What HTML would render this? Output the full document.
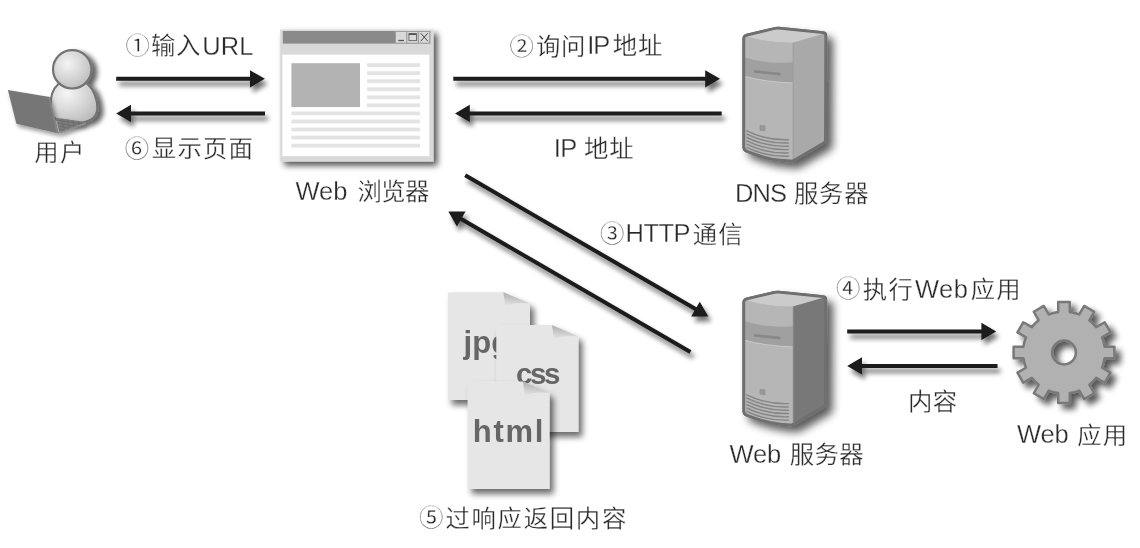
<!DOCTYPE html>
<html><head><meta charset="utf-8"><title>Web</title>
<style>
html,body{margin:0;padding:0;background:#fff;}
body{width:1140px;height:548px;overflow:hidden;font-family:"Liberation Sans","Noto Sans CJK SC",sans-serif;}
svg{display:block;will-change:transform;}
text{font-family:"Liberation Sans","Noto Sans CJK SC",sans-serif;}
</style></head><body>
<svg width="1140" height="548" viewBox="0 0 1140 548">
<defs>
<filter id="shu" filterUnits="userSpaceOnUse" x="0" y="0" width="1140" height="548"><feGaussianBlur in="SourceAlpha" stdDeviation="2.9"/><feOffset dx="4.5" dy="3.2"/><feComponentTransfer><feFuncA type="linear" slope="0.62"/></feComponentTransfer><feMerge><feMergeNode/><feMergeNode in="SourceGraphic"/></feMerge></filter><filter id="shl" filterUnits="userSpaceOnUse" x="0" y="0" width="1140" height="548"><feGaussianBlur in="SourceAlpha" stdDeviation="2"/><feOffset dx="2" dy="2.5"/><feComponentTransfer><feFuncA type="linear" slope="0.4"/></feComponentTransfer><feMerge><feMergeNode/><feMergeNode in="SourceGraphic"/></feMerge></filter><filter id="shw" filterUnits="userSpaceOnUse" x="0" y="0" width="1140" height="548"><feGaussianBlur in="SourceAlpha" stdDeviation="3"/><feOffset dx="3.5" dy="3.7"/><feComponentTransfer><feFuncA type="linear" slope="0.68"/></feComponentTransfer><feMerge><feMergeNode/><feMergeNode in="SourceGraphic"/></feMerge></filter><filter id="shs" filterUnits="userSpaceOnUse" x="0" y="0" width="1140" height="548"><feGaussianBlur in="SourceAlpha" stdDeviation="4.0"/><feOffset dx="6" dy="5.5"/><feComponentTransfer><feFuncA type="linear" slope="0.64"/></feComponentTransfer><feMerge><feMergeNode/><feMergeNode in="SourceGraphic"/></feMerge></filter><filter id="shg" filterUnits="userSpaceOnUse" x="0" y="0" width="1140" height="548"><feGaussianBlur in="SourceAlpha" stdDeviation="3.0"/><feOffset dx="4.8" dy="4.8"/><feComponentTransfer><feFuncA type="linear" slope="0.66"/></feComponentTransfer><feMerge><feMergeNode/><feMergeNode in="SourceGraphic"/></feMerge></filter><filter id="shf" filterUnits="userSpaceOnUse" x="0" y="0" width="1140" height="548"><feGaussianBlur in="SourceAlpha" stdDeviation="3.2"/><feOffset dx="4.2" dy="4.8"/><feComponentTransfer><feFuncA type="linear" slope="0.58"/></feComponentTransfer><feMerge><feMergeNode/><feMergeNode in="SourceGraphic"/></feMerge></filter><filter id="sha" filterUnits="userSpaceOnUse" x="0" y="0" width="1140" height="548"><feGaussianBlur in="SourceAlpha" stdDeviation="2.9"/><feOffset dx="3" dy="4.8"/><feComponentTransfer><feFuncA type="linear" slope="0.56"/></feComponentTransfer><feMerge><feMergeNode/><feMergeNode in="SourceGraphic"/></feMerge></filter>
<radialGradient id="gh" cx="0.38" cy="0.35" r="0.7"><stop offset="0" stop-color="#f4f4f4"/><stop offset="0.55" stop-color="#d6d6d6"/><stop offset="1" stop-color="#bdbdbd"/></radialGradient>
<radialGradient id="gb" cx="0.35" cy="0.3" r="0.75"><stop offset="0" stop-color="#f6f6f6"/><stop offset="0.5" stop-color="#dadada"/><stop offset="1" stop-color="#bcbcbc"/></radialGradient>
<linearGradient id="fold" x1="0.3" y1="0" x2="0.15" y2="1"><stop offset="0" stop-color="#adadad"/><stop offset="0.5" stop-color="#c9c9c9"/><stop offset="1" stop-color="#e4e4e4"/></linearGradient>
</defs>
<rect width="1140" height="548" fill="#fff"/>

<g filter="url(#shu)">
<path d="M57.5 85 C52.5 89 50.3 98 50.3 108 C50.3 119 60 123.2 74 123.2 C88 123.2 97.4 119 97.4 108 C97.4 99 93.5 89.5 88.5 85 C82 79 64 79 57.5 85Z" fill="url(#gb)" stroke="#727272" stroke-width="2.2"/>
<circle cx="72.2" cy="69.3" r="19.2" fill="url(#gh)" stroke="#737373" stroke-width="2.2"/>
</g>
<g filter="url(#shl)">
<path d="M55.8 117.8 L85.9 122.1 L85.9 124.3 L59.7 133.6 Z" fill="#7b7b7b"/>
<path d="M57.2 120.2 L83.5 123.9 M58 123.2 L78 126.7 M58.8 126.2 L71 128.9 M59.4 129.2 L65 130.8" stroke="#6b6b6b" stroke-width="0.9" fill="none"/>
<path d="M62 118.8 L64.5 131.5 M67.5 119.5 L69.5 129.8 M73 120.3 L74.5 128 M78.5 121 L79.3 126.3" stroke="#6b6b6b" stroke-width="0.8" fill="none"/>
<path d="M59.7 133.6 L85.9 124.3 L85.9 122.6 L59.4 132 Z" fill="#8e8e8e"/>
<path d="M7.9 90.1 L49.7 96.9 L58.7 133.5 L16.4 123.8 Z" fill="#767676"/>
<path d="M49.7 96.9 L58.7 133.5 L56.6 133 L48.2 96.7 Z" fill="#858585"/>
</g>
<g filter="url(#shw)">
<rect x="280.2" y="29.5" width="153.3" height="132.1" fill="#d9d9d9"/>
</g>
<rect x="282.8" y="31" width="147.6" height="12.6" fill="#8a8a8a"/>
<rect x="282.4" y="54.6" width="147" height="101.6" fill="#fff"/>
<rect x="395.7" y="31.6" width="11" height="11.4" fill="#d9d9d9" stroke="#9a9a9a" stroke-width="0.6"/>
<rect x="407" y="31.6" width="11" height="11.4" fill="#d9d9d9" stroke="#9a9a9a" stroke-width="0.6"/>
<rect x="418.7" y="31.6" width="11" height="11.4" fill="#d9d9d9" stroke="#9a9a9a" stroke-width="0.6"/>
<path d="M398.3 40.5 H404" stroke="#555" stroke-width="1.3"/>
<rect x="408.9" y="33.6" width="7.6" height="7" fill="none" stroke="#666" stroke-width="0.9"/><path d="M408.9 34.2 H416.5" stroke="#555" stroke-width="1.6"/>
<path d="M420.7 33.2 L427.8 41.2 M427.8 33.2 L420.7 41.2" stroke="#444" stroke-width="1"/>
<rect x="291.4" y="63.2" width="68.6" height="43.9" fill="#b3b3b3"/>
<rect x="367.1" y="63.2" width="52.9" height="3.8" fill="#e3e3e3"/>
<rect x="367.1" y="71.25" width="52.9" height="3.8" fill="#e3e3e3"/>
<rect x="367.1" y="79.3" width="52.9" height="3.8" fill="#e3e3e3"/>
<rect x="367.1" y="87.35" width="52.9" height="3.8" fill="#e3e3e3"/>
<rect x="367.1" y="95.4" width="52.9" height="3.8" fill="#e3e3e3"/>
<rect x="367.1" y="103.45" width="52.9" height="3.8" fill="#e3e3e3"/>
<rect x="291.4" y="111.5" width="128.6" height="3.8" fill="#e3e3e3"/>
<rect x="291.4" y="119.55" width="128.6" height="3.8" fill="#e3e3e3"/>
<rect x="291.4" y="127.6" width="128.6" height="3.8" fill="#e3e3e3"/>
<rect x="291.4" y="135.65" width="128.6" height="3.8" fill="#e3e3e3"/>
<rect x="291.4" y="143.7" width="128.6" height="3.8" fill="#e3e3e3"/>
<g transform="translate(0 0)"><g filter="url(#shs)"><path d="M743.8 38.7Q743.8 35.7 746.72 35.02L774.56 28.5Q776.7 28 778.89 28.22L823.21 32.64Q825.8 32.9 825.79 35.5L825.41 139.9Q825.4 141.9 823.67 142.91L794.2 160.09Q792.3 161.2 790.11 161.01L780.15 160.15Q768 159.1 755.9 154.65L746.8 151.3Q743.8 150.2 743.8 147Z" fill="#b5b5b5" stroke="#6f6f6f" stroke-width="2.8" stroke-linejoin="round"/></g><path d="M744.6 35.8 L776.7 28.9 L824.8 33.4 L793 42.7 Q768 43.5 744.6 35.8Z" fill="#cbcbcb"/><path d="M744.6 35.8 Q768 43.5 793 42.7 L793 160.7 Q766 160 745 149.2Z" fill="#b6b6b6"/><path d="M744.6 57.2 Q766 64.5 793 62.3 L793 82.8 Q766 82 744.6 76.2Z" fill="#a0a0a0"/><path d="M744.6 76.4 Q766 82.2 793 83" fill="none" stroke="#c8c8c8" stroke-width="1"/><path d="M754.1 70.1 L780.4 72.8 L780.4 75.6 L754.1 72.6Z" fill="#888"/><path d="M793 42.7 L825 33.4 L824.9 141.9 L793 160.7Z" fill="#a9a9a9"/><path d="M793 42.7 V160.5" stroke="#9d9d9d" stroke-width="0.8"/><path d="M759.6 125 L765.5 125.6 L765.5 131.3 L759.6 130.7Z" fill="#969696"/><path d="M746.8 130.9 Q766 140.5 788.4 139.7" fill="none" stroke="#858585" stroke-width="1.4" stroke-linecap="round"/><path d="M746.8 134.2 Q766 143.8 788.4 143" fill="none" stroke="#858585" stroke-width="1.4" stroke-linecap="round"/><path d="M746.8 137.5 Q766 147.1 788.4 146.3" fill="none" stroke="#858585" stroke-width="1.4" stroke-linecap="round"/><path d="M746.8 140.8 Q766 150.4 788.4 149.6" fill="none" stroke="#858585" stroke-width="1.4" stroke-linecap="round"/><path d="M746.8 144.1 Q766 153.7 788.4 152.9" fill="none" stroke="#858585" stroke-width="1.4" stroke-linecap="round"/><path d="M746.8 147.4 Q766 157 788.4 156.2" fill="none" stroke="#858585" stroke-width="1.4" stroke-linecap="round"/><path d="M743.8 38.7Q743.8 35.7 746.72 35.02L774.56 28.5Q776.7 28 778.89 28.22L823.21 32.64Q825.8 32.9 825.79 35.5L825.41 139.9Q825.4 141.9 823.67 142.91L794.2 160.09Q792.3 161.2 790.11 161.01L780.15 160.15Q768 159.1 755.9 154.65L746.8 151.3Q743.8 150.2 743.8 147Z" fill="none" stroke="#6f6f6f" stroke-width="2.8" stroke-linejoin="round"/></g>
<g transform="translate(0 263.9)"><g filter="url(#shs)"><path d="M743.8 38.7Q743.8 35.7 746.72 35.02L774.56 28.5Q776.7 28 778.89 28.22L823.21 32.64Q825.8 32.9 825.79 35.5L825.41 139.9Q825.4 141.9 823.67 142.91L794.2 160.09Q792.3 161.2 790.11 161.01L780.15 160.15Q768 159.1 755.9 154.65L746.8 151.3Q743.8 150.2 743.8 147Z" fill="#b5b5b5" stroke="#6f6f6f" stroke-width="2.8" stroke-linejoin="round"/></g><path d="M744.6 35.8 L776.7 28.9 L824.8 33.4 L793 42.7 Q768 43.5 744.6 35.8Z" fill="#cbcbcb"/><path d="M744.6 35.8 Q768 43.5 793 42.7 L793 160.7 Q766 160 745 149.2Z" fill="#b6b6b6"/><path d="M744.6 57.2 Q766 64.5 793 62.3 L793 82.8 Q766 82 744.6 76.2Z" fill="#a0a0a0"/><path d="M744.6 76.4 Q766 82.2 793 83" fill="none" stroke="#c8c8c8" stroke-width="1"/><path d="M754.1 70.1 L780.4 72.8 L780.4 75.6 L754.1 72.6Z" fill="#888"/><path d="M793 42.7 L825 33.4 L824.9 141.9 L793 160.7Z" fill="#787878"/><path d="M793 42.7 V160.5" stroke="#9d9d9d" stroke-width="0.8"/><path d="M759.6 125 L765.5 125.6 L765.5 131.3 L759.6 130.7Z" fill="#969696"/><path d="M746.8 130.9 Q766 140.5 788.4 139.7" fill="none" stroke="#858585" stroke-width="1.4" stroke-linecap="round"/><path d="M746.8 134.2 Q766 143.8 788.4 143" fill="none" stroke="#858585" stroke-width="1.4" stroke-linecap="round"/><path d="M746.8 137.5 Q766 147.1 788.4 146.3" fill="none" stroke="#858585" stroke-width="1.4" stroke-linecap="round"/><path d="M746.8 140.8 Q766 150.4 788.4 149.6" fill="none" stroke="#858585" stroke-width="1.4" stroke-linecap="round"/><path d="M746.8 144.1 Q766 153.7 788.4 152.9" fill="none" stroke="#858585" stroke-width="1.4" stroke-linecap="round"/><path d="M746.8 147.4 Q766 157 788.4 156.2" fill="none" stroke="#858585" stroke-width="1.4" stroke-linecap="round"/><path d="M743.8 38.7Q743.8 35.7 746.72 35.02L774.56 28.5Q776.7 28 778.89 28.22L823.21 32.64Q825.8 32.9 825.79 35.5L825.41 139.9Q825.4 141.9 823.67 142.91L794.2 160.09Q792.3 161.2 790.11 161.01L780.15 160.15Q768 159.1 755.9 154.65L746.8 151.3Q743.8 150.2 743.8 147Z" fill="none" stroke="#6f6f6f" stroke-width="2.8" stroke-linejoin="round"/></g>
<g filter="url(#shg)"><path d="M1058.2 311.91L1058.2 302.1 L1069.8 302.1 L1069.8 311.91A41 41 0 0 1 1079.27 314.45L1084.18 305.95 L1094.22 311.75 L1089.32 320.25A41 41 0 0 1 1096.25 327.18L1104.75 322.28 L1110.55 332.32 L1102.05 337.23A41 41 0 0 1 1104.59 346.7L1114.4 346.7 L1114.4 358.3 L1104.59 358.3A41 41 0 0 1 1102.05 367.77L1110.55 372.68 L1104.75 382.72 L1096.25 377.82A41 41 0 0 1 1089.32 384.75L1094.22 393.25 L1084.18 399.05 L1079.27 390.55A41 41 0 0 1 1069.8 393.09L1069.8 402.9 L1058.2 402.9 L1058.2 393.09A41 41 0 0 1 1048.73 390.55L1043.82 399.05 L1033.78 393.25 L1038.68 384.75A41 41 0 0 1 1031.75 377.82L1023.25 382.72 L1017.45 372.68 L1025.95 367.77A41 41 0 0 1 1023.41 358.3L1013.6 358.3 L1013.6 346.7 L1023.41 346.7A41 41 0 0 1 1025.95 337.23L1017.45 332.32 L1023.25 322.28 L1031.75 327.18A41 41 0 0 1 1038.68 320.25L1033.78 311.75 L1043.82 305.95 L1048.73 314.45A41 41 0 0 1 1058.2 311.91 ZM1075.9 352.5 A11.9 11.9 0 1 0 1052.1 352.5 A11.9 11.9 0 1 0 1075.9 352.5 Z" fill="#b1b1b1" fill-rule="evenodd" stroke="#797979" stroke-width="2.5" stroke-linejoin="round"/></g>
<g filter="url(#shf)"><path d="M447.8 292.2 H503.3 L530 303.6 V399.9 H447.8 Z" fill="#e6e6e6"/></g><path d="M503.3 292.2 L530 303.6 Q515.32 301.89 505.4 306 Z" fill="url(#fold)"/>
<text x="463.58" y="353.3" font-size="31" letter-spacing="0" fill="#666" font-weight="bold">jpg</text>
<g filter="url(#shf)"><path d="M496.3 325.1 H551.9 L578.4 336.4 V432 H496.3 Z" fill="#e6e6e6"/></g><path d="M551.9 325.1 L578.4 336.4 Q563.82 334.71 554 338.8 Z" fill="url(#fold)"/>
<text x="515.95" y="384" font-size="29.5" letter-spacing="-2.43" fill="#666" font-weight="bold">css</text>
<g filter="url(#shf)"><path d="M467.6 381.6 H522.9 L549.6 393 V489 H467.6 Z" fill="#e6e6e6"/></g><path d="M522.9 381.6 L549.6 393 Q534.91 391.29 525 395.4 Z" fill="url(#fold)"/>
<text x="472.74" y="441.5" font-size="31" letter-spacing="1.77" fill="#666" font-weight="bold">html</text>
<g filter="url(#sha)" fill="#1a1a1a">
<path d="M116.2 76.85 H250 V70.25 L264.8 78.85 L250 87.45 V80.85 H116.2 Z"/>
<path d="M265 111.4 H131 V104.8 L116.2 113.4 L131 122 V115.4 H265 Z"/>
<path d="M453.3 76.85 H705.2 V70.25 L720 78.85 L705.2 87.45 V80.85 H453.3 Z"/>
<path d="M721.7 111.4 H469.8 V104.8 L455 113.4 L469.8 122 V115.4 H721.7 Z"/>
<path d="M847.2 329.4 H981.4 V322.8 L996.2 331.4 L981.4 340 V333.4 H847.2 Z"/>
<path d="M997.5 363.9 H862 V357.3 L847.2 365.9 L862 374.5 V367.9 H997.5 Z"/>
<g transform="translate(465.2 175.3) rotate(30.15)"><path d="M0 -2 H266.33 V-8.6 L281.13 0 L266.33 8.6 V2 H0 Z"/></g>
<g transform="translate(690.4 352) rotate(-149.88)"><path d="M0 -2 H264.98 V-8.6 L279.78 0 L264.98 8.6 V2 H0 Z"/></g>
</g>
<text x="125.4" y="54.3" font-size="24.4" fill="#2a2a2a" stroke="#fff" stroke-width="0.3">①</text>
<text x="151" y="54.4" font-size="24.4" letter-spacing="0.6" fill="#2a2a2a" stroke="#fff" stroke-width="0.3">输入</text>
<text x="202.23" y="55" font-size="25.5" letter-spacing="0.05" fill="#2a2a2a" stroke="#fff" stroke-width="0.3">URL</text>
<text x="124.7" y="157.2" font-size="24.4" fill="#2a2a2a" stroke="#fff" stroke-width="0.3">⑥</text>
<text x="151.8" y="156.8" font-size="24.4" letter-spacing="1.2" fill="#2a2a2a" stroke="#fff" stroke-width="0.3">显示页面</text>
<text x="34.3" y="161.2" font-size="24.4" letter-spacing="1.3" fill="#2a2a2a" stroke="#fff" stroke-width="0.3">用户</text>
<text x="295.59" y="199.5" font-size="25.5" letter-spacing="-0.12" fill="#2a2a2a" stroke="#fff" stroke-width="0.3">Web</text>
<text x="357.5" y="200.1" font-size="24.4" letter-spacing="-0.7" fill="#2a2a2a" stroke="#fff" stroke-width="0.3">浏览器</text>
<text x="509.6" y="54.5" font-size="24.4" fill="#2a2a2a" stroke="#fff" stroke-width="0.3">②</text>
<text x="536" y="54.6" font-size="24.4" letter-spacing="0.6" fill="#2a2a2a" stroke="#fff" stroke-width="0.3">询问</text>
<text x="587.15" y="54" font-size="25.5" letter-spacing="-1" fill="#2a2a2a" stroke="#fff" stroke-width="0.3">IP</text>
<text x="612.8" y="54.3" font-size="24.4" letter-spacing="0.8" fill="#2a2a2a" stroke="#fff" stroke-width="0.3">地址</text>
<text x="553.75" y="156.8" font-size="25.5" letter-spacing="-0.7" fill="#2a2a2a" stroke="#fff" stroke-width="0.3">IP</text>
<text x="583.9" y="156.8" font-size="24.4" letter-spacing="0.9" fill="#2a2a2a" stroke="#fff" stroke-width="0.3">地址</text>
<text x="735.01" y="201.8" font-size="25.5" letter-spacing="-0.89" fill="#2a2a2a" stroke="#fff" stroke-width="0.3">DNS</text>
<text x="794" y="202" font-size="24.4" letter-spacing="0.7" fill="#2a2a2a" stroke="#fff" stroke-width="0.3">服务器</text>
<text x="600" y="242.3" font-size="24.4" fill="#2a2a2a" stroke="#fff" stroke-width="0.3">③</text>
<text x="625.61" y="242.3" font-size="25.5" letter-spacing="-0.55" fill="#2a2a2a" stroke="#fff" stroke-width="0.3">HTTP</text>
<text x="692.8" y="242.6" font-size="24.4" letter-spacing="1" fill="#2a2a2a" stroke="#fff" stroke-width="0.3">通信</text>
<text x="836" y="297.3" font-size="24.4" fill="#2a2a2a" stroke="#fff" stroke-width="0.3">④</text>
<text x="862.8" y="297.8" font-size="24.4" letter-spacing="1.2" fill="#2a2a2a" stroke="#fff" stroke-width="0.3">执行</text>
<text x="914.99" y="297.5" font-size="25.5" letter-spacing="0.53" fill="#2a2a2a" stroke="#fff" stroke-width="0.3">Web</text>
<text x="970.8" y="297.9" font-size="24.4" letter-spacing="1" fill="#2a2a2a" stroke="#fff" stroke-width="0.3">应用</text>
<text x="908" y="410" font-size="24.4" letter-spacing="0.3" fill="#2a2a2a" stroke="#fff" stroke-width="0.3">内容</text>
<text x="729.49" y="462.5" font-size="25.5" letter-spacing="-0.12" fill="#2a2a2a" stroke="#fff" stroke-width="0.3">Web</text>
<text x="789.7" y="463" font-size="24.4" letter-spacing="0.4" fill="#2a2a2a" stroke="#fff" stroke-width="0.3">服务器</text>
<text x="1016.89" y="443.1" font-size="25.5" letter-spacing="-0.07" fill="#2a2a2a" stroke="#fff" stroke-width="0.3">Web</text>
<text x="1077.3" y="443.7" font-size="24.4" letter-spacing="1" fill="#2a2a2a" stroke="#fff" stroke-width="0.3">应用</text>
<text x="419" y="526.1" font-size="24.4" fill="#2a2a2a" stroke="#fff" stroke-width="0.3">⑤</text>
<text x="445.4" y="526.5" font-size="24.4" letter-spacing="1.7" fill="#2a2a2a" stroke="#fff" stroke-width="0.3">过响应返回内容</text>
</svg></body></html>
